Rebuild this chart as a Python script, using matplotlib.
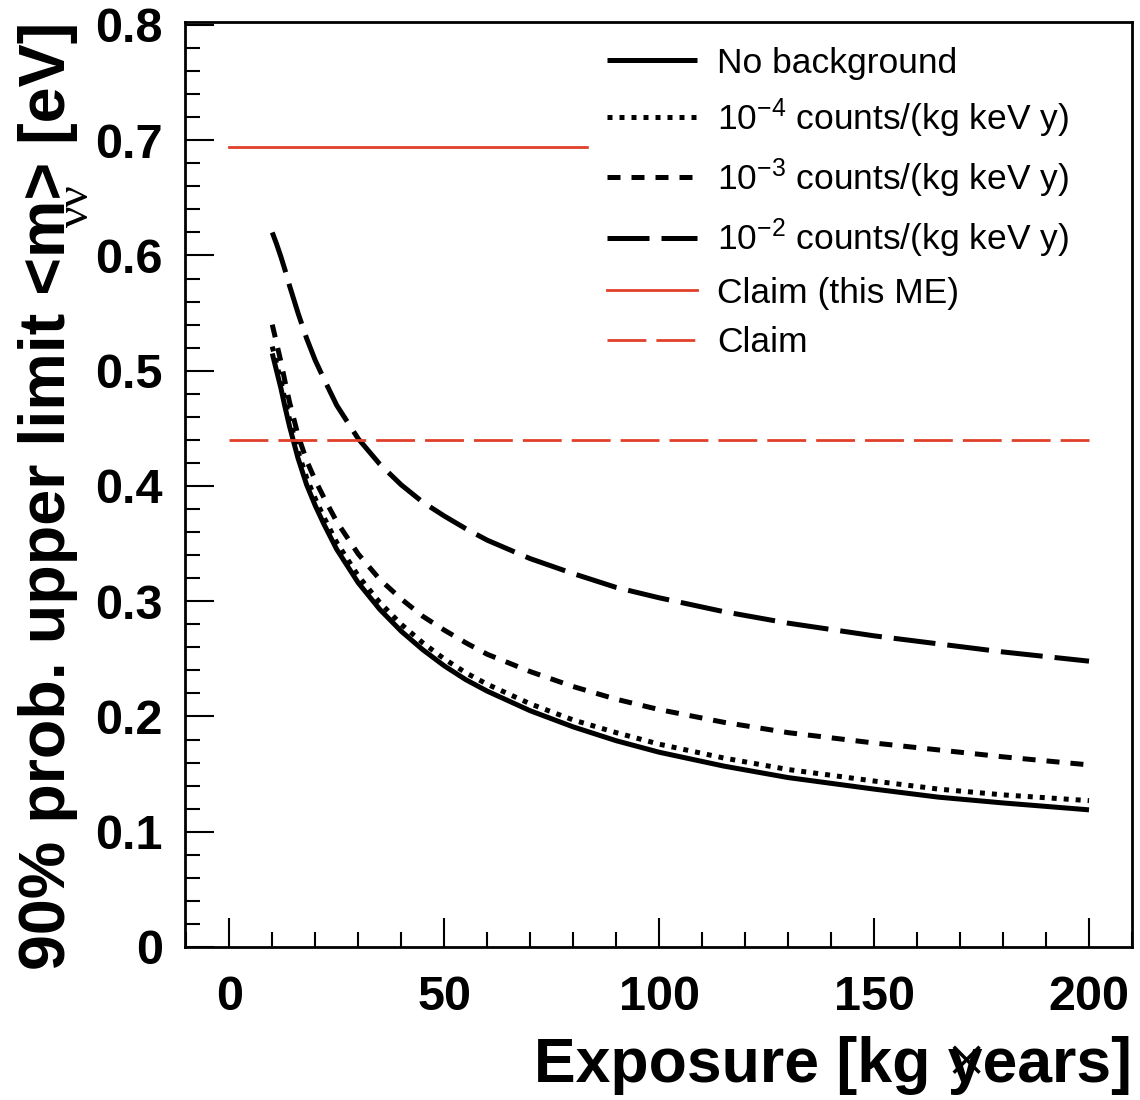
import matplotlib.pyplot as plt
from matplotlib.ticker import MultipleLocator, FuncFormatter

# exposure in kg*years, limits in eV
exposure = [10, 11, 12, 13, 14, 16, 18, 20, 22, 25, 30, 35, 40, 45, 50, 55, 60,
            70, 80, 90, 100, 115, 130, 150, 165, 180, 200]
no_bkg = [0.515, 0.500, 0.485, 0.468, 0.452, 0.424, 0.401, 0.383, 0.367, 0.345, 0.316,
          0.293, 0.274, 0.258, 0.244, 0.232, 0.222, 0.205, 0.191, 0.179, 0.169, 0.157,
          0.147, 0.137, 0.130, 0.125, 0.119]
bkg_1e4 = [0.521, 0.506, 0.491, 0.474, 0.458, 0.430, 0.407, 0.389, 0.373, 0.351, 0.322,
           0.299, 0.280, 0.264, 0.250, 0.238, 0.228, 0.211, 0.197, 0.186, 0.176, 0.164,
           0.154, 0.144, 0.137, 0.132, 0.127]
bkg_1e3 = [0.540, 0.524, 0.508, 0.490, 0.473, 0.444, 0.422, 0.405, 0.390, 0.369, 0.341,
           0.319, 0.302, 0.287, 0.275, 0.264, 0.254, 0.239, 0.226, 0.215, 0.206, 0.195,
           0.186, 0.177, 0.171, 0.165, 0.158]
bkg_1e2 = [0.620, 0.610, 0.599, 0.587, 0.574, 0.550, 0.528, 0.509, 0.493, 0.470, 0.441,
           0.419, 0.401, 0.386, 0.374, 0.363, 0.353, 0.337, 0.324, 0.312, 0.303, 0.291,
           0.281, 0.270, 0.263, 0.256, 0.248]

claim_x = [0, 200]
claim_me = [0.694, 0.694]
claim = [0.44, 0.44]

labels = ["No background",
          "10$^{-4}$ counts/(kg keV y)",
          "10$^{-3}$ counts/(kg keV y)",
          "10$^{-2}$ counts/(kg keV y)",
          "Claim (this ME)",
          "Claim"]

plt.rcParams['font.family'] = ['Liberation Sans', 'DejaVu Sans']
plt.rcParams['mathtext.fontset'] = 'custom'
plt.rcParams['mathtext.rm'] = 'Liberation Sans'
plt.rcParams['mathtext.it'] = 'Liberation Sans'

W, H = 1140, 1100
fig = plt.figure(figsize=(W / 100, H / 100), dpi=100)
ax = fig.add_axes([185 / W, 1 - 947 / H, (1132 - 185) / W, (947 - 22) / H])

red = '#e0402a'
lw = 3.6
ax.plot(exposure, no_bkg, color='black', lw=lw, solid_capstyle='butt', label=labels[0])
ax.plot(exposure, bkg_1e4, color='black', lw=lw, ls=(0, (1, 1.4)), label=labels[1])
ax.plot(exposure, bkg_1e3, color='black', lw=lw, ls=(0, (2.6, 2.2)), label=labels[2])
ax.plot(exposure, bkg_1e2, color='black', lw=lw, ls=(0, (8.4, 2.4)), label=labels[3])
ax.plot(claim_x, claim_me, color=red, lw=2, label=labels[4])
ax.plot(claim_x, claim, color=red, lw=2, ls=(0, (14, 3.6)), label=labels[5])

ax.set_xlim(-10.3, 210)
ax.set_ylim(0, 0.8026)

ax.xaxis.set_major_locator(MultipleLocator(50))
ax.xaxis.set_minor_locator(MultipleLocator(10))
ax.yaxis.set_major_locator(MultipleLocator(0.1))
ax.yaxis.set_minor_locator(MultipleLocator(0.02))
ax.yaxis.set_major_formatter(FuncFormatter(lambda v, p: '0' if abs(v) < 1e-9 else f'{v:.1f}'))

ax.tick_params(which='both', direction='in', top=False, right=False, width=1.5)
ax.tick_params(which='major', length=21)
ax.tick_params(which='minor', length=10.5)
ax.tick_params(axis='y', which='major', pad=16, labelsize=35)
ax.tick_params(axis='x', which='major', pad=20, labelsize=35)
for t in ax.get_xticklabels() + ax.get_yticklabels():
    t.set_fontweight('bold')
for s in ax.spines.values():
    s.set_linewidth(2)

# opaque legend box, hides the claim line behind it (kept under the frame)
leg = ax.legend(loc='upper left', bbox_to_anchor=(589 / W, 1 - 40 / H, (1122 - 589) / W, 0.01),
                bbox_transform=fig.transFigure, mode='expand', fontsize=25.5, frameon=True,
                fancybox=False, framealpha=1, facecolor='white', edgecolor='white',
                borderpad=0.5, borderaxespad=0, handlelength=2.55,
                handletextpad=0.56, labelspacing=0.47)
leg.set_zorder(2.4)

# axis titles (placed like the ROOT original)
fig.text(1132 / W, 1 - 1082 / H, "Exposure [kg years]", fontsize=45,
         fontweight='bold', ha='right', va='baseline')
fig.text(966 / W, 1 - 1066 / H, "\u00d7", fontsize=50, family='Liberation Serif',
         ha='center', va='center')
fig.text(18 / W, 1 - 22 / H, "90% prob. upper limit <m> [eV]", fontsize=46.5,
         fontweight='bold', rotation=90, ha='left', va='top')
fig.text(77 / W, 1 - 206 / H, "\u03bd\u03bd", fontsize=34, family='Liberation Serif',
         rotation=90, ha='center', va='center')

fig.savefig('out.png', dpi=100)
